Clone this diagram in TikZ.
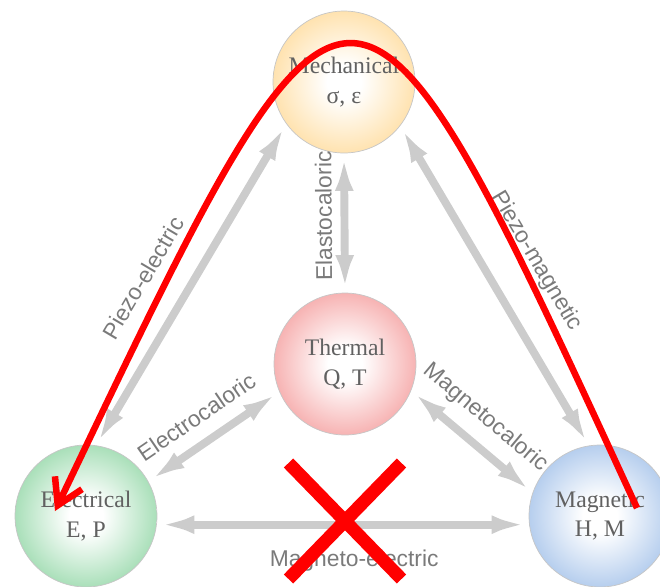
\documentclass[tikz,border=0pt]{standalone}
\usepackage{fontspec}
\setmainfont{Liberation Serif}
\setsansfont{Liberation Sans}
\usetikzlibrary{arrows.meta,shapes.misc}

\definecolor{mechcol}{RGB}{255,210,130}
\definecolor{thermcol}{RGB}{242,135,135}
\definecolor{eleccol}{RGB}{120,205,145}
\definecolor{magncol}{RGB}{140,178,228}

% white core, tinted rim
\colorlet{ferroic}{white}
\pgfdeclareradialshading[ferroic]{ferroicshade}{\pgfpoint{0bp}{0bp}}{%
	color(0bp)=(white); color(6bp)=(white); color(36bp)=(ferroic); color(50bp)=(ferroic)}

\tikzset{
	ferroic/.style={circle, minimum size=2.84cm, inner sep=0pt, draw=gray!45,
		/utils/exec={\colorlet{ferroic}{#1}}, shading=ferroicshade,
		align=center, text=black!62, font=\fontsize{13.5}{17}\selectfont},
	coupling/.style={draw=gray!40, line width=4.5pt,
		{Latex[length=0.75cm,width=0.36cm]}-{Latex[length=0.75cm,width=0.36cm]}},
	effect/.style={sloped, inner sep=0pt, text=black!52,
		font=\sffamily\fontsize{13}{15}\selectfont},
	forbidden/.style={cross out, draw=red, line width=7.4pt,
		minimum width=2cm, minimum height=2.06cm},
	transfer/.style={red, line width=3.7pt,
		-{Straight Barb[length=0.5cm,width=0.6cm]}}
}

\begin{document}
\begin{tikzpicture}[x=0.02cm, y=-0.02cm]
		\useasboundingbox (0,0) rectangle (660,586);
		
		% the four state variables
		\node[ferroic=mechcol] (mech) at (344,82) {Mechanical\\σ, ε};
		\node[ferroic=thermcol] (therm) at (345,364) {Thermal\\Q, T};
		\node[ferroic=eleccol] (elec) at (86,516) {Electrical\\E, P};
		\node[ferroic=magncol] (magn) at (600,516) {Magnetic\\H, M};
		
		% couplings between them
		\draw[coupling] (elec.82) -- (mech.216) node[effect, pos=0.45, above=0.65cm] {Piezo-electric};
		\draw[coupling] (mech.322) -- (magn.99) node[effect, pos=0.5, above=0.68cm] {Piezo-magnetic};
		\draw[coupling] (therm.90) -- (mech.270) node[effect, allow upside down, pos=0.55, above=0.17cm] {Elastocaloric};
		\draw[coupling] (elec.29) -- (therm.203) node[effect, pos=0.48, above=0.28cm] {Electrocaloric};
		\draw[coupling] (therm.338) -- (magn.161) node[effect, pos=0.47, above=0.25cm] {Magnetocaloric};
		\draw[coupling] (elec.-7) -- (magn.187) node[effect, pos=0.53, below=0.42cm] {Magneto-electric};
		
		% no direct route, go round over the mechanical one
		\node[forbidden] (cut) at (345,521) {};
		\coordinate (pathstart) at (637,508);
		\coordinate (pathtop) at (352,-111);
		\coordinate (pathend) at (55,511);
		\draw[transfer] (pathstart) .. controls (pathtop) .. (pathend);
\end{tikzpicture}
\end{document}
